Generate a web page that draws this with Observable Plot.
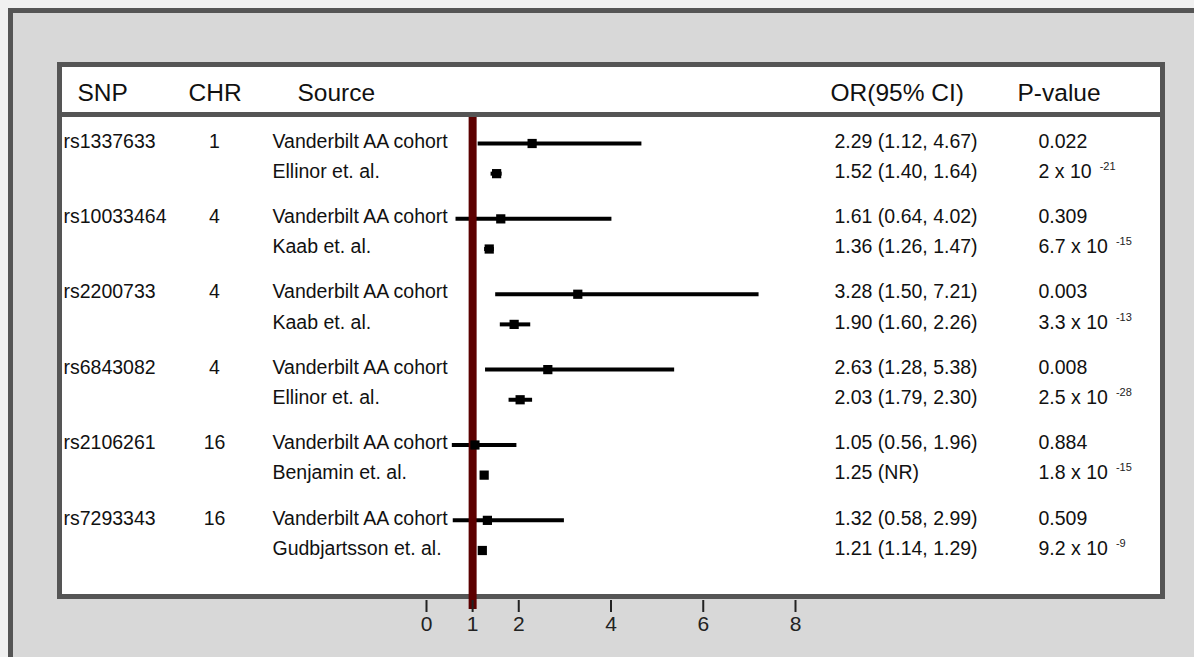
<!DOCTYPE html>
<html><head><meta charset="utf-8">
<script src="https://cdn.jsdelivr.net/npm/d3@7"></script>
<script src="https://cdn.jsdelivr.net/npm/@observablehq/plot@0.6"></script>
<style>
html,body{margin:0;padding:0;width:1194px;height:657px;overflow:hidden;background:#f0f0f0;font-family:"Liberation Sans",Arial,sans-serif;}
#outer{position:absolute;left:8px;top:8px;width:1200px;height:660px;border-top:5px solid #555;border-left:5px solid #555;background:#d8d8d8;}
#panel{position:absolute;left:57px;top:62px;width:1108px;height:537px;box-sizing:border-box;border:5px solid #555;background:#fff;}
#sep{position:absolute;left:57px;top:112px;width:1108px;height:5px;background:#555;}
#chart{position:absolute;left:0;top:0;}
</style></head><body>
<div id="outer"></div><div id="panel"></div><div id="sep"></div><div id="chart"></div>
<script>
// ---- data ----
const groupSNP = ["rs1337633","rs10033464","rs2200733","rs6843082","rs2106261","rs7293343"];
const groupCHR = ["1","4","4","4","16","16"];
const sources = ["Vanderbilt AA cohort","Ellinor et. al.","Vanderbilt AA cohort","Kaab et. al.","Vanderbilt AA cohort","Kaab et. al.","Vanderbilt AA cohort","Ellinor et. al.","Vanderbilt AA cohort","Benjamin et. al.","Vanderbilt AA cohort","Gudbjartsson et. al."];
const orValues = [2.29,1.52,1.61,1.36,3.28,1.90,2.63,2.03,1.05,1.25,1.32,1.21];
const ciLow  = [1.12,1.40,0.64,1.26,1.50,1.60,1.28,1.79,0.56,null,0.58,1.14];
const ciHigh = [4.67,1.64,4.02,1.47,7.21,2.26,5.38,2.30,1.96,null,2.99,1.29];
const pBase = ["0.022","2 x 10","0.309","6.7 x 10","0.003","3.3 x 10","0.008","2.5 x 10","0.884","1.8 x 10","0.509","9.2 x 10"];
const pExp  = ["","-21","","-15","","-13","","-28","","-15","","-9"];
const xTicks = [0,1,2,4,6,8];
const headers = ["SNP","CHR","Source","OR(95% CI)","P-value"];

// ---- tables ----
const rows = sources.map((s,i)=>({
  group: Math.floor(i/2), sub: i%2,
  row: Math.floor(i/2)*2.5 + (i%2),
  source: s, or: orValues[i], lo: ciLow[i], hi: ciHigh[i],
  orLabel: ciLow[i]==null ? `${orValues[i].toFixed(2)} (NR)` : `${orValues[i].toFixed(2)} (${ciLow[i].toFixed(2)}, ${ciHigh[i].toFixed(2)})`,
  pLabel: pExp[i] ? pBase[i] + "^" + pExp[i] : pBase[i]
}));
const groups = groupSNP.map((snp,g)=>({snp, chr: groupCHR[g], row: g*2.5}));

const font = "'Liberation Sans', Arial, sans-serif";
const body = {y:"row", frameAnchor:"left", dy:-2, fontSize:19.5, fill:"#111", lineAnchor:"middle"};
const headerOffsets = [-349, -238, -129, 404, 591];
const headerMarks = headers.map((h,i)=>Plot.text([h], {text:d=>d, frameAnchor:"top-left", textAnchor:"start", dx:headerOffsets[i], dy:-50, fontSize:24.5, fill:"#111", lineAnchor:"middle"}));

const svg = Plot.plot({
  width:1194, height:657,
  marginLeft:426, marginRight:399, marginTop:143, marginBottom:57,
  style:{background:"transparent", fontFamily:font, fontSize:"21px", overflow:"visible"},
  x:{domain:[0,8], label:null},
  y:{domain:[0,13.5], reverse:true, insetBottom:50, axis:null},
  marks:[
    Plot.ruleY(rows.filter(d=>d.lo!=null), {x1:"lo", x2:"hi", y:"row", stroke:"#000", strokeWidth:4}),
    Plot.ruleX([1], {stroke:"#5c0000", strokeWidth:8, insetTop:-26, insetBottom:-9}),
    Plot.dot(rows, {x:"or", y:"row", symbol:"square", r:5.2, fill:"#000", stroke:null}),
    Plot.axisX(xTicks, {tickSize:12, tickPadding:4, fontSize:21, color:"#222", strokeWidth:2, label:null}),
    Plot.text(groups, {...body, text:"snp", textAnchor:"start", dx:-363}),
    Plot.text(groups, {...body, text:"chr", textAnchor:"middle", dx:-212}),
    Plot.text(rows, {...body, text:"source", textAnchor:"start", dx:-154}),
    Plot.text(rows, {...body, text:"orLabel", textAnchor:"start", dx:408}),
    Plot.text(rows, {...body, text:"pLabel", textAnchor:"start", dx:612}),
    ...headerMarks
  ]
});

// larger axis tick labels
svg.querySelectorAll('g[aria-label="x-axis tick label"]').forEach(g=>{
  g.setAttribute("font-size","21");
  g.style.fontSize = "21px";
  g.querySelectorAll("text").forEach(t=>{ t.style.fontSize = "21px"; });
});

// superscript exponents for p-values
svg.querySelectorAll('text').forEach(t=>{
  const s = t.textContent; const k = s.indexOf("^");
  if (k < 0 || t.children.length) return;
  t.textContent = s.slice(0,k);
  const ts = document.createElementNS("http://www.w3.org/2000/svg","tspan");
  ts.setAttribute("dx","8"); ts.setAttribute("dy","-8");
  ts.setAttribute("font-size","11"); ts.setAttribute("fill","#222");
  ts.textContent = s.slice(k+1);
  t.appendChild(ts);
});
document.getElementById("chart").appendChild(svg);
</script>
</body></html>
